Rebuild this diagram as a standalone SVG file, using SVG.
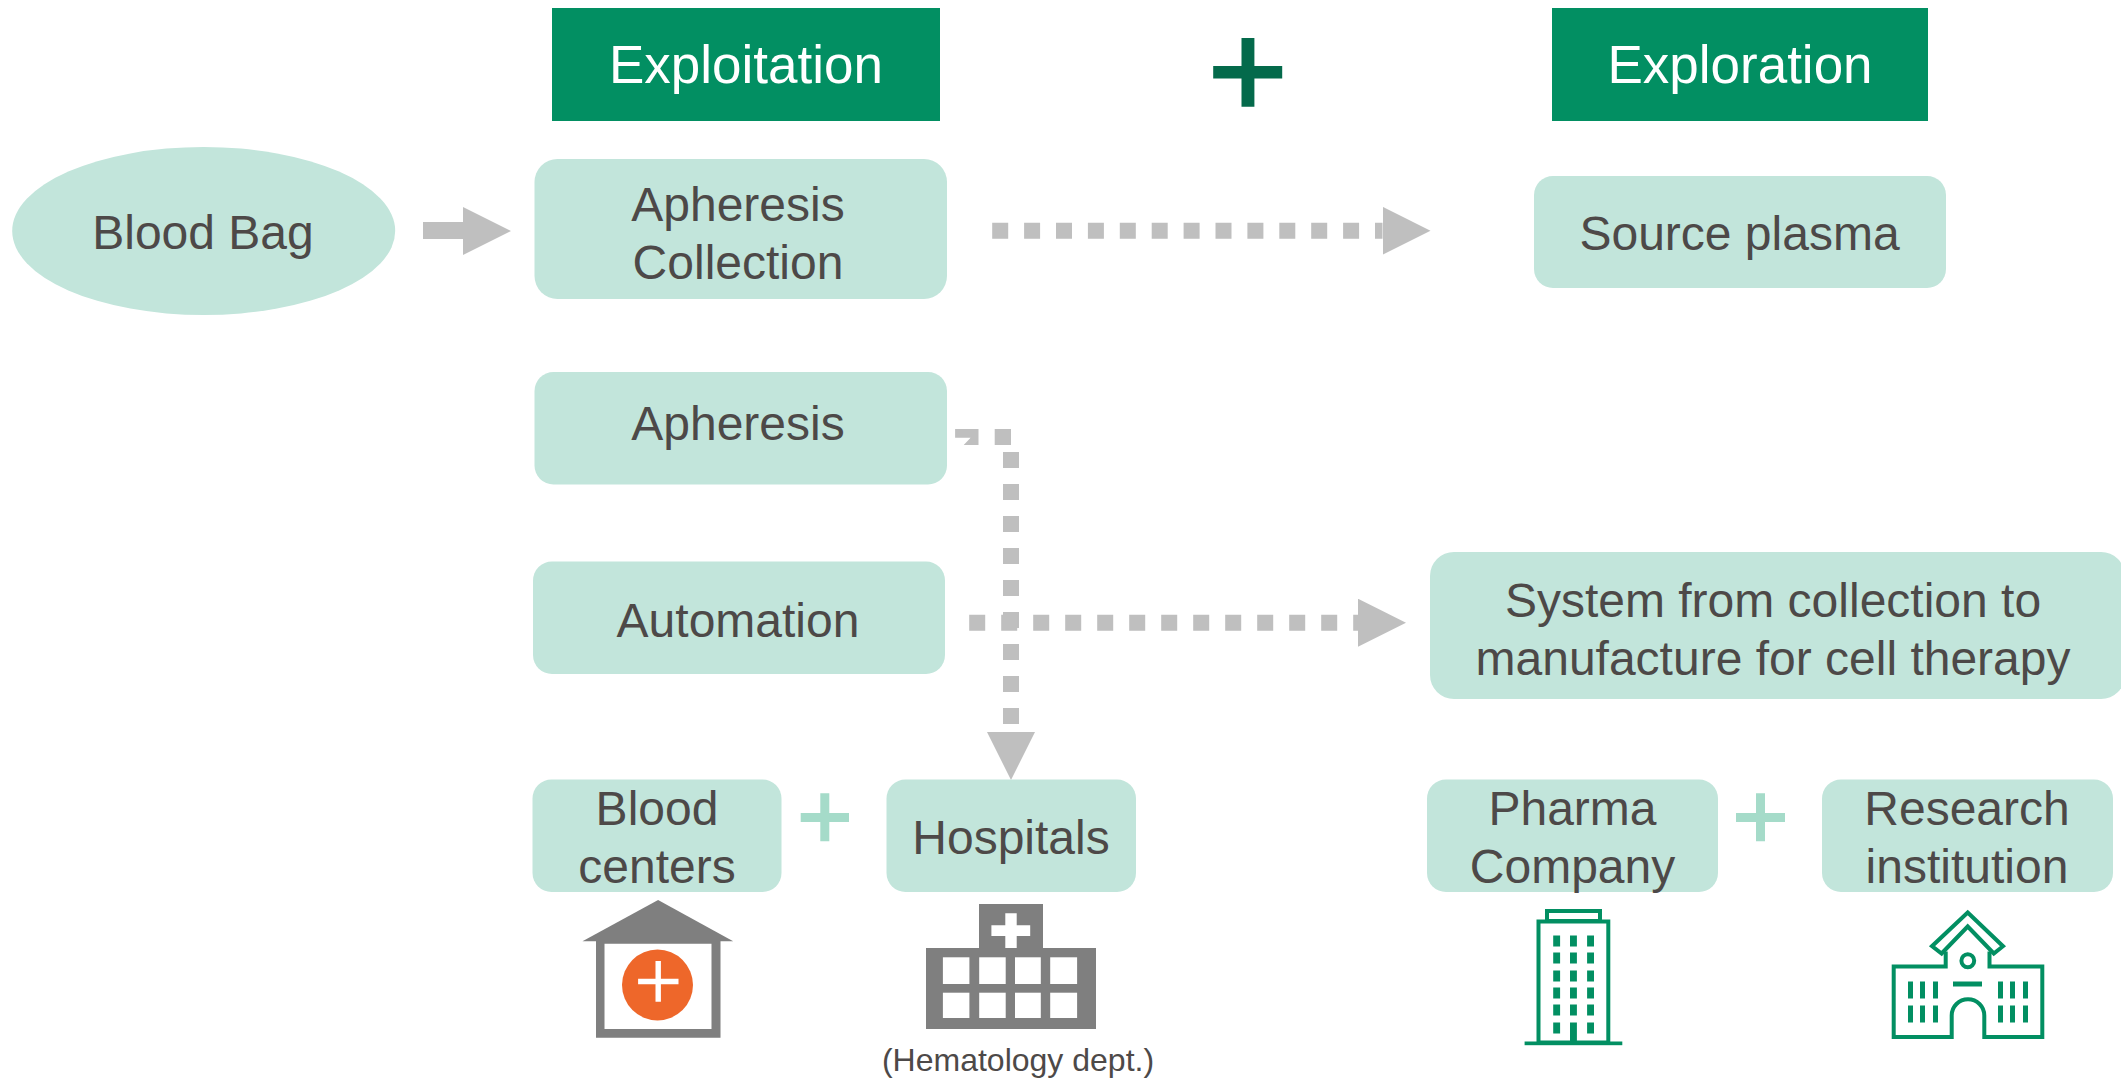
<svg xmlns="http://www.w3.org/2000/svg" width="2121" height="1080" viewBox="0 0 2121 1080">
<style>
text{font-family:"Liberation Sans",Arial,sans-serif;font-size:48px;fill:#4d4948;text-anchor:middle}
.hd{fill:#028f62}
.hd-t{font-size:53px;fill:#fff}
.nd{fill:#c2e5db}
.dot{fill:none;stroke:#bfbfbf;stroke-width:16}
.sq{fill:#bfbfbf}
.gr{fill:#7f7f7f}
.wh{fill:#fff}
.gn{fill:#028f62}
.ln{fill:none;stroke:#028f62;stroke-width:4}
.pl{fill:#a5dbc9}
</style>
<defs>
<marker id="head" markerUnits="userSpaceOnUse" markerWidth="48" markerHeight="48" refX="0" refY="24" orient="auto" viewBox="0 0 48 48"><path d="M0 0L48 24L0 48Z" fill="#bfbfbf"/></marker>
</defs>
<rect width="2121" height="1080" fill="#fff"/>
<g id="connectors">
<polygon class="sq" points="423,222 463,222 463,207 511,231 463,255 463,239 423,239"/>
<line class="dot" x1="992.2" y1="230.7" x2="1382.5" y2="230.7" stroke-dasharray="16 15.9" marker-end="url(#head)"/>
<polygon class="sq" points="955.1,429 978.5,429 978.5,445 963.7,445 970.6,437.7 955.1,437.7"/>
<rect class="sq" x="994.7" y="429" width="16.3" height="16"/>
<line class="dot" x1="1011" y1="452" x2="1011" y2="732" stroke-dasharray="16 16" marker-end="url(#head)"/>
<line class="dot" x1="969.2" y1="622.7" x2="1358" y2="622.7" stroke-dasharray="16 16" marker-end="url(#head)"/>
</g>
<g id="node-exploitation"><rect class="hd" x="552" y="8" width="388" height="113"/><text class="hd-t" x="746" y="83">Exploitation</text></g>
<g id="node-exploration"><rect class="hd" x="1552" y="8" width="376" height="113"/><text class="hd-t" x="1740" y="83">Exploration</text></g>
<g id="plus-main"><path fill="#046a4b" d="M1241.5 38H1254.4V66H1282.2V78.4H1254.4V106.7H1241.5V78.4H1213.2V66H1241.5Z"/></g>
<g id="node-blood-bag"><ellipse class="nd" cx="203.7" cy="231" rx="191.5" ry="84"/><text x="203" y="249">Blood Bag</text></g>
<g id="node-apheresis-collection"><rect class="nd" x="534.5" y="159" width="412.5" height="140" rx="23"/><text x="738" y="221">Apheresis</text><text x="738" y="279">Collection</text></g>
<g id="node-source-plasma"><rect class="nd" x="1534" y="176" width="412" height="112" rx="19"/><text x="1739.5" y="250">Source plasma</text></g>
<g id="node-apheresis"><rect class="nd" x="534.5" y="372" width="412.5" height="112.5" rx="19"/><text x="738" y="440">Apheresis</text></g>
<g id="node-automation"><rect class="nd" x="533" y="561.5" width="412" height="112.5" rx="19"/><text x="738" y="636.5">Automation</text></g>
<g id="node-system"><rect class="nd" x="1430" y="552" width="695" height="147" rx="24"/><text x="1773" y="617">System from collection to</text><text x="1773" y="675">manufacture for cell therapy</text></g>
<g id="node-blood-centers"><rect class="nd" x="532.5" y="779.5" width="249" height="112.5" rx="19"/><text x="657" y="825">Blood</text><text x="657" y="883">centers</text></g>
<g id="plus-left"><path class="pl" d="M820.3 793.3H829.3V813H849V822H829.3V841.3H820.3V822H800.7V813H820.3Z"/></g>
<g id="node-hospitals"><rect class="nd" x="886.5" y="779.5" width="249.5" height="112.5" rx="19"/><text x="1011" y="854">Hospitals</text></g>
<g id="node-pharma"><rect class="nd" x="1427" y="779.5" width="291" height="112.5" rx="19"/><text x="1572.5" y="825">Pharma</text><text x="1572.5" y="883">Company</text></g>
<g id="plus-right"><path class="pl" d="M1756 793.3H1765V813H1785V822H1765V841.3H1756V822H1736V813H1756Z"/></g>
<g id="node-research"><rect class="nd" x="1822" y="779.5" width="291" height="112.5" rx="19"/><text x="1967" y="825">Research</text><text x="1967" y="883">institution</text></g>
<g id="icon-blood-center" transform="translate(0.5 -1)">
<polygon class="gr" points="657.6,901 732.7,942.3 582,942.3"/>
<path class="gr" fill-rule="evenodd" d="M595.5 942H720V1038.7H595.5ZM604 944.7V1030H711V944.7Z"/>
<circle cx="657" cy="986" r="35.5" fill="#ee672a"/>
<path class="wh" d="M655 962H660.4V979.7H678V985.3H660.4V1002.7H655V985.3H637.6V979.7H655Z"/>
</g>
<g id="icon-hospital">
<g transform="translate(0 -1)">
<rect class="gr" x="979" y="905" width="64" height="44"/>
<rect class="gr" x="926" y="949" width="170" height="81"/>
<path class="wh" d="M1005.3 914.3H1016.7V926.3H1030.2V937H1016.7V949H1005.3V937H991.4V926.3H1005.3Z"/>
<rect class="wh" x="942.9" y="958.3" width="26.5" height="26.7"/><rect class="wh" x="979.2" y="958.3" width="26.5" height="26.7"/><rect class="wh" x="1015" y="958.3" width="25.8" height="26.7"/><rect class="wh" x="1050.2" y="958.3" width="26.9" height="26.7"/>
<rect class="wh" x="942.9" y="993.7" width="26.5" height="25.3"/><rect class="wh" x="979.2" y="993.7" width="26.5" height="25.3"/><rect class="wh" x="1015" y="993.7" width="25.8" height="25.3"/><rect class="wh" x="1050.2" y="993.7" width="26.9" height="25.3"/>
</g>
<text x="1018" y="1071" style="font-size:32px">(Hematology dept.)</text>
</g>
<g id="icon-pharma" transform="translate(0 -1.5)">
<rect class="ln" x="1547" y="912.5" width="53" height="10"/>
<rect class="ln" x="1538.5" y="923" width="69.8" height="121"/>
<rect class="gn" x="1524.6" y="1043" width="97.7" height="3.7"/>
<path class="gn" d="M1553.2 937h6.9v11h-6.9zM1570 937h6.9v11h-6.9zM1587.1 937h6.9v11h-6.9zM1553.2 954h6.9v11h-6.9zM1570 954h6.9v11h-6.9zM1587.1 954h6.9v11h-6.9zM1553.2 972h6.9v11h-6.9zM1570 972h6.9v11h-6.9zM1587.1 972h6.9v11h-6.9zM1553.2 989h6.9v11h-6.9zM1570 989h6.9v11h-6.9zM1587.1 989h6.9v11h-6.9zM1553.2 1006h6.9v11h-6.9zM1570 1006h6.9v11h-6.9zM1587.1 1006h6.9v11h-6.9zM1553.2 1024h6.9v11h-6.9zM1570 1024h6.9v19h-6.9zM1587.1 1024h6.9v11h-6.9z"/>
</g>
<g id="icon-research" transform="translate(0 -1.5)">
<path class="ln" stroke-linejoin="miter" d="M1967.7 914L2003 947.7L1993.8 955L1967.7 928L1941.6 955L1932 947.7Z"/>
<path class="ln" d="M1945.7 953V968H1893.7V1038.6H1951.7V1017A16.3 16.3 0 0 1 1984.3 1017V1038.6H2042.3V968H1989.5V953"/>
<ellipse class="ln" cx="1967.8" cy="962.2" rx="6.4" ry="6.5"/>
<rect class="gn" x="1953" y="983" width="29" height="5"/>
<path class="gn" d="M1908 983h5v17h-5zM1920 983h5v17h-5zM1933 983h5v17h-5zM1998 983h5v17h-5zM2010 983h5v17h-5zM2023 983h5v17h-5zM1908 1007h5v17h-5zM1920 1007h5v17h-5zM1933 1007h5v17h-5zM1998 1007h5v17h-5zM2010 1007h5v17h-5zM2023 1007h5v17h-5z"/>
</g>
</svg>
